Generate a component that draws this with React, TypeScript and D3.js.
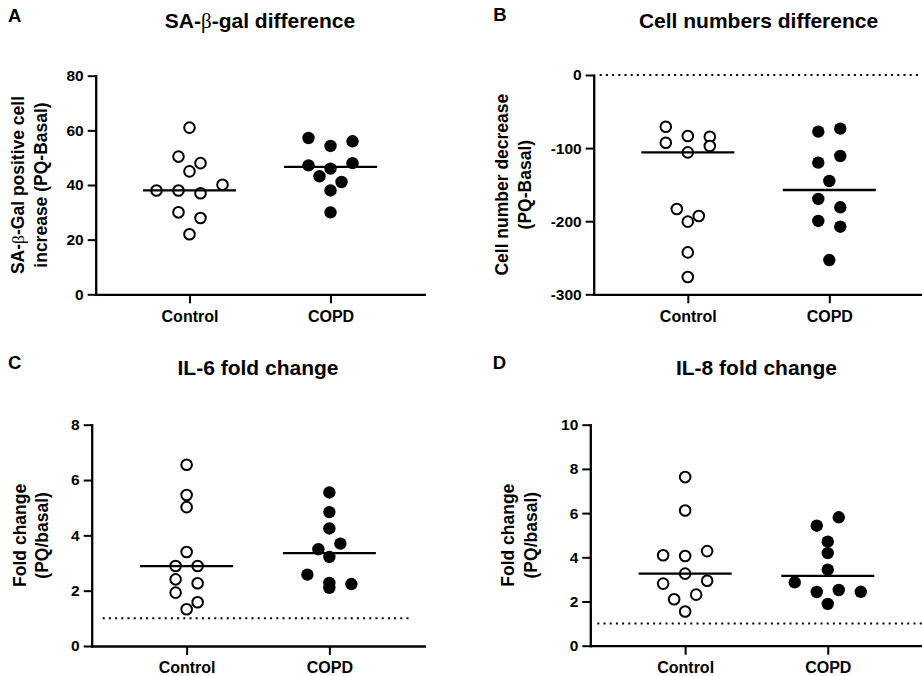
import React, { useEffect, useRef } from "react";
import * as d3 from "d3";

// Groups shown on every x axis
const groups = ["Control", "COPD"];

// SA-β-gal positive cell increase (PQ - basal)
const saGalControl = [61.0, 50.4, 48.0, 45.0, 38.0, 38.0, 37.0, 40.1, 30.0, 27.9, 22.0];
const saGalCopd = [57.2, 54.3, 56.0, 47.2, 46.0, 48.0, 43.2, 41.1, 38.0, 30.0];
const saGalTicks = [0, 20, 40, 60, 80];

// Cell number decrease (PQ - basal)
const cellControl = [-70.7, -83.4, -84.4, -92.6, -105.8, -97.1, -183.3, -192.9, -200.6, -242.6, -276.3];
const cellCopd = [-77.5, -73.4, -119.9, -110.8, -145.0, -169.6, -181.0, -199.7, -207.5, -253.1];
const cellTicks = [-300, -200, -100, 0];

// IL-6 fold change (PQ / basal)
const il6Control = [6.55, 5.46, 5.02, 3.4, 2.89, 2.89, 2.41, 2.27, 1.93, 1.58, 1.33];
const il6Copd = [5.55, 4.84, 4.25, 3.5, 3.7, 3.22, 2.58, 2.28, 2.24, 2.1];
const il6Ticks = [0, 2, 4, 6, 8];

// IL-8 fold change (PQ / basal)
const il8Control = [7.63, 6.12, 4.09, 4.06, 4.28, 2.81, 3.26, 2.94, 2.1, 2.31, 1.55];
const il8Copd = [5.43, 5.81, 4.71, 4.19, 3.44, 2.87, 2.43, 2.52, 2.44, 1.89];
const il8Ticks = [0, 2, 4, 6, 8, 10];

const FONT = "'Liberation Sans', Arial, Helvetica, sans-serif";
const INK = "#000";

type PanelSpec = {
  letter: string;
  letterX: number;
  letterY: number;
  title: React.ReactNode;
  titleY: number;
  yLabel: [React.ReactNode, React.ReactNode];
  labelX: [number, number];
  control: number[];
  copd: number[];
  ticks: number[];
  refValue?: number;
  refInset?: [number, number];
  left: number;
  right: number;
  top: number;
  bottom: number;
};

const beta = (
  <tspan fontFamily="'Liberation Serif', 'DejaVu Serif', serif" fontWeight="normal">
    β
  </tspan>
);

const panels: PanelSpec[] = [
  {
    letter: "A",
    letterX: 8,
    letterY: 21.7,
    title: <>SA-{beta}-gal difference</>,
    titleY: 27.5,
    yLabel: [<>SA-{beta}-Gal positive cell</>, <>increase (PQ-Basal)</>],
    labelX: [24.3, 47.3],
    control: saGalControl,
    copd: saGalCopd,
    ticks: saGalTicks,
    left: 95.7,
    right: 424.3,
    top: 75.7,
    bottom: 294.3,
  },
  {
    letter: "B",
    letterX: 493.3,
    letterY: 20.9,
    title: <>Cell numbers difference</>,
    titleY: 27.5,
    yLabel: [<>Cell number decrease</>, <>(PQ-Basal)</>],
    labelX: [507.7, 531],
    control: cellControl,
    copd: cellCopd,
    ticks: cellTicks,
    refValue: 0,
    refInset: [6, 0],
    left: 593.7,
    right: 923.4,
    top: 75,
    bottom: 294.3,
  },
  {
    letter: "C",
    letterX: 8,
    letterY: 369.3,
    title: <>IL-6 fold change</>,
    titleY: 375,
    yLabel: [<>Fold change</>, <>(PQ/basal)</>],
    labelX: [25.8, 48],
    control: il6Control,
    copd: il6Copd,
    ticks: il6Ticks,
    refValue: 1,
    refInset: [11, 15],
    left: 91.7,
    right: 424.3,
    top: 424.7,
    bottom: 646,
  },
  {
    letter: "D",
    letterX: 492.7,
    letterY: 369.3,
    title: <>IL-8 fold change</>,
    titleY: 375,
    yLabel: [<>Fold change</>, <>(PQ/basal)</>],
    labelX: [513.5, 537],
    control: il8Control,
    copd: il8Copd,
    ticks: il8Ticks,
    refValue: 1,
    refInset: [7, 0],
    left: 590.3,
    right: 922.6,
    top: 424.7,
    bottom: 645.7,
  },
];

// Column-scatter layout: points whose pixel positions fall within `gap` of a row's
// top point share that row and are spread symmetrically around the group centre.
function swarmOffsets(values: number[], y: (v: number) => number, gap: number, unit: number): number[] {
  const order = values.map((_, i) => i).sort((a, b) => values[b] - values[a] || a - b);
  const rows: number[][] = [];
  let row: number[] = [];
  let rowTop = 0;
  for (const i of order) {
    const py = y(values[i]);
    if (row.length && Math.abs(py - rowTop) > gap) {
      rows.push(row);
      row = [];
    }
    if (!row.length) rowTop = py;
    row.push(i);
  }
  if (row.length) rows.push(row);
  const off = new Array(values.length).fill(0);
  rows.forEach((r) => {
    r.sort((a, b) => a - b);
    const n = r.length;
    r.forEach((i, k) => {
      off[i] = (k - (n - 1) / 2) * 2 * unit;
    });
  });
  return off;
}

function Panel({ p }: { p: PanelSpec }) {
  const xAxisRef = useRef<SVGGElement>(null);
  const yAxisRef = useRef<SVGGElement>(null);

  const y = d3
    .scaleLinear()
    .domain([p.ticks[0], p.ticks[p.ticks.length - 1]])
    .range([p.bottom, p.top]);
  const x = d3.scalePoint<string>().domain(groups).range([p.left, p.right]).padding(0.665);

  useEffect(() => {
    const gy = d3.select(yAxisRef.current as SVGGElement);
    gy.selectAll("*").remove();
    gy.call(
      d3
        .axisLeft(y)
        .tickValues(p.ticks)
        .tickSize(8)
        .tickSizeOuter(0)
        .tickPadding(4)
        .tickFormat((d) => String(d))
    );
    const gx = d3.select(xAxisRef.current as SVGGElement);
    gx.selectAll("*").remove();
    gx.call(d3.axisBottom(x).tickSize(9).tickSizeOuter(0).tickPadding(7));

    [gy, gx].forEach((g) => {
      g.attr("font-family", FONT).attr("font-size", null);
      g.select(".domain").attr("stroke", INK).attr("stroke-width", 2.3).attr("stroke-linecap", "square");
      g.selectAll(".tick line").attr("stroke", INK).attr("stroke-width", 2);
      g.selectAll(".tick text").attr("fill", INK).attr("font-weight", "bold");
    });
    gy.selectAll(".tick text").attr("font-size", 15.5);
    gx.selectAll(".tick text").attr("font-size", 16);
  });

  const cy = (p.top + p.bottom) / 2;
  const cx = (p.left + p.right) / 2;
  const halfMedian = 46.5;

  const series = [
    { name: groups[0], values: p.control, filled: false },
    { name: groups[1], values: p.copd, filled: true },
  ];

  return (
    <g>
      <text x={p.letterX} y={p.letterY} fontSize={18.5} fontWeight="bold" fill={INK}>
        {p.letter}
      </text>
      <text x={cx} y={p.titleY} fontSize={21} fontWeight="bold" textAnchor="middle" fill={INK}>
        {p.title}
      </text>
      {p.yLabel.map((line, i) => (
        <text
          key={i}
          transform={`translate(${p.labelX[i]},${cy}) rotate(-90)`}
          fontSize={17.5}
          fontWeight="bold"
          textAnchor="middle"
          fill={INK}
        >
          {line}
        </text>
      ))}

      {p.refValue !== undefined && p.refInset && (
        <line
          x1={p.left + p.refInset[0]}
          x2={p.right - p.refInset[1]}
          y1={y(p.refValue)}
          y2={y(p.refValue)}
          stroke={INK}
          strokeWidth={2}
          strokeDasharray="2 4.2"
        />
      )}

      <g ref={yAxisRef} transform={`translate(${p.left},0)`} />
      <g ref={xAxisRef} transform={`translate(0,${p.bottom})`} />

      {series.map((s) => {
        const x0 = x(s.name) as number;
        const offsets = swarmOffsets(s.values, y, 11, 11);
        const med = d3.median(s.values) as number;
        return (
          <g key={s.name}>
            {s.values.map((v, i) => (
              <circle
                key={i}
                cx={x0 + offsets[i]}
                cy={y(v)}
                r={s.filled ? 6.2 : 5.3}
                fill={s.filled ? INK : "#fff"}
                stroke={INK}
                strokeWidth={s.filled ? 0 : 2}
              />
            ))}
            <line
              x1={x0 - halfMedian}
              x2={x0 + halfMedian}
              y1={y(med)}
              y2={y(med)}
              stroke={INK}
              strokeWidth={2.3}
            />
          </g>
        );
      })}
    </g>
  );
}

export default function App() {
  return (
    <svg
      width={922}
      height={676}
      viewBox="0 0 922 676"
      style={{ position: "absolute", left: 0, top: 0, display: "block" }}
      fontFamily={FONT}
    >
      <rect width={922} height={676} fill="#fff" />
      {panels.map((p) => (
        <Panel key={p.letter} p={p} />
      ))}
    </svg>
  );
}
